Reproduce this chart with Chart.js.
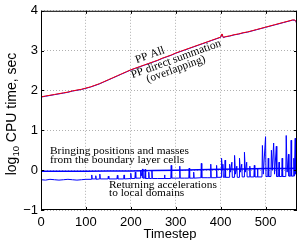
<!DOCTYPE html>
<html>
<head>
<meta charset="utf-8">
<script src="https://cdn.jsdelivr.net/npm/chart.js@4/dist/chart.umd.min.js"></script>
<style>
  html, body { margin: 0; padding: 0; background: #fff; }
  #wrap { width: 300px; height: 240px; }
</style>
</head>
<body>
<div id="wrap"><canvas id="cpuChart" width="300" height="240"></canvas></div>
<script>
// --- data ---
const X_TICKS = [0, 100, 200, 300, 400, 500];
const Y_TICKS = [-1, 0, 1, 2, 3, 4];

// PP All / PP direct summation (the two overlap)
const PP_STEPS = [0, 10, 20, 30, 40, 50, 60, 70, 80, 90, 100, 110, 120, 130, 140, 150, 160, 170, 180, 190,
  200, 210, 220, 230, 240, 250, 260, 270, 280, 290, 300, 310, 320, 330, 340, 350, 360, 370, 380, 390,
  400, 403, 406, 410, 420, 430, 440, 450, 460, 470, 480, 490, 500, 510, 520, 530, 540, 550, 560, 565, 568, 570];
const PP_ALL = [1.84, 1.86, 1.88, 1.90, 1.92, 1.94, 1.96, 1.99, 2.01, 2.03, 2.06, 2.09, 2.13, 2.17, 2.22, 2.27, 2.32, 2.37, 2.42, 2.47,
  2.52, 2.56, 2.60, 2.64, 2.68, 2.72, 2.76, 2.81, 2.85, 2.89, 2.94, 2.98, 3.02, 3.06, 3.10, 3.14, 3.18, 3.22, 3.26, 3.30,
  3.34, 3.42, 3.33, 3.35, 3.37, 3.40, 3.42, 3.45, 3.47, 3.50, 3.53, 3.56, 3.59, 3.62, 3.65, 3.68, 3.71, 3.74, 3.77, 3.77, 3.73, 3.66];
const PP_DIRECT = [1.835, 1.855, 1.875, 1.895, 1.915, 1.935, 1.955, 1.985, 2.005, 2.025, 2.055, 2.085, 2.125, 2.165, 2.215, 2.265, 2.315, 2.365, 2.415, 2.465,
  2.515, 2.555, 2.595, 2.635, 2.675, 2.715, 2.755, 2.805, 2.845, 2.885, 2.935, 2.975, 3.015, 3.055, 3.095, 3.135, 3.175, 3.215, 3.255, 3.295,
  3.335, 3.415, 3.325, 3.345, 3.365, 3.395, 3.415, 3.445, 3.465, 3.495, 3.525, 3.555, 3.585, 3.615, 3.645, 3.675, 3.705, 3.735, 3.765, 3.765, 3.725, 3.655];

// Bringing positions and masses from the boundary layer cells
const BRING_STEPS = [0, 50, 100, 150, 200, 250, 300, 350, 400, 450, 500, 550, 570];
const BRING = [-0.03, -0.03, -0.03, -0.02, -0.02, -0.01, 0.0, 0.01, 0.02, 0.03, 0.04, 0.04, 0.05];

// Returning accelerations to local domains: [timestep, value]
const RETURN_ACC = [
  [0, -0.24], [10, -0.25], [20, -0.23], [30, -0.24], [40, -0.25], [50, -0.24], [60, -0.23], [70, -0.24], [80, -0.25], [90, -0.24], [100, -0.23],
  [112, -0.23], [113, -0.12], [114, -0.22], [121, -0.22], [122, -0.14], [123, -0.23], [130, -0.22], [131, -0.10], [132, -0.22],
  [149, -0.22], [150, -0.15], [151, -0.22], [169, -0.22], [170, -0.13], [171, -0.22], [184, -0.22], [185, -0.12], [186, -0.22],
  [199, -0.21], [200, -0.08], [201, -0.21], [209, -0.21], [210, -0.05], [211, -0.20],
  [221, -0.20], [222, 0.00], [223, -0.15], [226, 0.03], [227, -0.20], [231, -0.20], [232, 0.02], [233, -0.21],
  [239, -0.21], [240, -0.05], [241, -0.21], [246, -0.21], [247, 0.00], [248, -0.21],
  [260, -0.21], [274, -0.21], [275, -0.12], [276, -0.21], [289, -0.21], [290, 0.12], [291, -0.20],
  [308, -0.20], [309, 0.10], [310, -0.20], [320, -0.20], [329, -0.20], [330, 0.05], [331, -0.20],
  [339, -0.20], [340, -0.05], [341, -0.20], [356, -0.19], [357, 0.17], [358, -0.19],
  [370, -0.19], [377, -0.19], [378, 0.15], [379, -0.19], [390, -0.19], [391, 0.12], [392, -0.18],
  [401, -0.18], [402, 0.30], [404, 0.00], [405, 0.15], [406, -0.18], [409, -0.18], [410, 0.25], [411, -0.18],
  [419, -0.18], [420, 0.15], [422, -0.05], [425, 0.20], [426, -0.18],
  [430, -0.18], [431, 0.37], [433, -0.10], [436, 0.10], [437, -0.18],
  [441, -0.18], [442, 0.30], [444, -0.05], [447, 0.15], [448, -0.17],
  [452, -0.17], [453, 0.45], [455, -0.05], [458, 0.20], [459, -0.17],
  [464, -0.17], [465, 0.10], [466, -0.17], [474, -0.17], [475, 0.12], [476, -0.17], [481, -0.17], [482, 0.05], [483, -0.17],
  [492, -0.17], [493, 0.62], [495, -0.10], [500, 0.84], [501, -0.16], [505, -0.16], [506, 0.30], [507, -0.16],
  [512, -0.16], [513, 0.50], [515, 0.00], [518, 0.68], [520, -0.10], [524, 0.60], [525, -0.16],
  [529, -0.16], [530, 0.20], [531, -0.16], [536, -0.16], [537, 0.30], [538, -0.16],
  [545, -0.16], [546, 0.87], [548, -0.05], [551, 0.40], [552, -0.15], [556, -0.15], [557, 0.75], [558, -0.15],
  [562, -0.15], [563, 0.30], [564, -0.15], [566, 0.80], [567, -0.10], [569, 0.70], [570, -0.14]
];

const pairs = (xs, ys) => xs.map((x, i) => ({ x, y: ys[i] }));

// matlab-like box, inward ticks and the text notes
const boxPlugin = {
  id: 'box',
  afterDraw(chart) {
    const { ctx, chartArea: a, scales } = chart;
    ctx.save();
    ctx.strokeStyle = '#000';
    ctx.lineWidth = 1;
    ctx.strokeRect(a.left + 0.5, a.top + 0.5, a.right - a.left - 1, a.bottom - a.top - 1);
    ctx.beginPath();
    X_TICKS.forEach(v => {
      const px = Math.round(scales.x.getPixelForValue(v)) + 0.5;
      ctx.moveTo(px, a.bottom); ctx.lineTo(px, a.bottom - 3);
      ctx.moveTo(px, a.top); ctx.lineTo(px, a.top + 3);
    });
    Y_TICKS.forEach(v => {
      const py = Math.round(scales.y.getPixelForValue(v)) + 0.5;
      ctx.moveTo(a.left, py); ctx.lineTo(a.left + 3, py);
      ctx.moveTo(a.right, py); ctx.lineTo(a.right - 3, py);
    });
    ctx.stroke();

    // notes
    ctx.fillStyle = '#000';
    ctx.font = '11.4px "Liberation Serif"';
    ctx.textAlign = 'center';
    ctx.textBaseline = 'alphabetic';
    const rot = (txt, x, y, ang) => {
      ctx.save(); ctx.translate(x, y); ctx.rotate(ang * Math.PI / 180); ctx.fillText(txt, 0, 0); ctx.restore();
    };
    rot('PP All', 151, 58, -20);
    rot('PP direct summation', 177, 62, -20);
    rot('(overlapping)', 177, 72, -20);
    ctx.textAlign = 'left';
    ctx.fillText('Bringing positions and masses', 50, 154);
    ctx.fillText('from the boundary layer cells', 50, 162.5);
    ctx.fillText('Returning accelerations', 109, 187.5);
    ctx.fillText('to local domains', 109, 196);

    // y axis title with subscript
    ctx.translate(16, 114);
    ctx.rotate(-Math.PI / 2);
    const p1 = 'log', p3 = ' CPU time, sec';
    ctx.font = '9.5px "Liberation Sans"';
    const w2 = ctx.measureText('10').width;
    ctx.font = '14px "Liberation Sans"';
    const w1 = ctx.measureText(p1).width, w3 = ctx.measureText(p3).width;
    const x0 = -(w1 + w2 + w3) / 2;
    ctx.fillText(p1, x0, 0);
    ctx.font = '9.5px "Liberation Sans"';
    ctx.fillText('10', x0 + w1, 3);
    ctx.font = '14px "Liberation Sans"';
    ctx.fillText(p3, x0 + w1 + w2, 0);
    ctx.restore();

    // x axis title
    ctx.save();
    ctx.fillStyle = '#000';
    ctx.font = '13px "Liberation Sans"';
    ctx.textAlign = 'center';
    ctx.textBaseline = 'alphabetic';
    ctx.fillText('Timestep', 170, 238);
    ctx.restore();
  }
};

new Chart(document.getElementById('cpuChart'), {
  type: 'line',
  data: {
    datasets: [
      { data: pairs(PP_STEPS, PP_ALL), borderColor: '#ff0000', borderWidth: 1 },
      { data: pairs(PP_STEPS, PP_DIRECT), borderColor: '#0000ff', borderWidth: 1 },
      { data: pairs(BRING_STEPS, BRING), borderColor: '#0000ff', borderWidth: 1.5 },
      { data: RETURN_ACC.map(([x, y]) => ({ x, y })), borderColor: '#0000ff', borderWidth: 1 }
    ]
  },
  options: {
    responsive: false,
    animation: false,
    layout: { padding: { top: 10, right: 3, left: 0, bottom: 0 } },
    elements: { point: { radius: 0 }, line: { tension: 0 } },
    plugins: { legend: { display: false }, tooltip: { enabled: false } },
    scales: {
      x: {
        type: 'linear', min: 0, max: 570,
        afterBuildTicks: s => { s.ticks = X_TICKS.map(v => ({ value: v })); },
        afterFit: s => { s.height = 30; },
        border: { display: false, dash: [1, 2] },
        grid: { color: '#b0b0b0', drawTicks: false, lineWidth: 1 },
        ticks: { color: '#000', padding: 5, font: { family: 'Liberation Sans', size: 13 }, maxRotation: 0 }
      },
      y: {
        type: 'linear', min: -1, max: 4,
        afterBuildTicks: s => { s.ticks = Y_TICKS.map(v => ({ value: v })); },
        afterFit: s => { s.width = 41; },
        border: { display: false, dash: [1, 2] },
        grid: { color: '#b0b0b0', drawTicks: false, lineWidth: 1 },
        ticks: { color: '#000', padding: 3, font: { family: 'Liberation Sans', size: 13 },
          callback: v => String(v).replace('-', '\u2212') }
      }
    }
  },
  plugins: [boxPlugin]
});
</script>
</body>
</html>
